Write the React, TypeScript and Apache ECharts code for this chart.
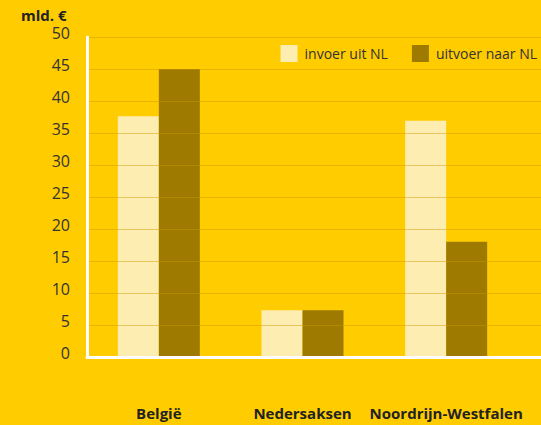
import React, { useEffect, useRef } from "react";
import * as echarts from "echarts";

const categories = ["België", "Nedersaksen", "Noordrijn-Westfalen"];
const invoerUitNL = [37.6, 7.3, 36.9];
const uitvoerNaarNL = [45.0, 7.3, 18.0];
const seriesNames = ["invoer uit NL", "uitvoer naar NL"];
const unitLabel = "mld. €";

const FONT = "'Open Sans', 'Noto Sans', sans-serif";

export default function App() {
  const ref = useRef<HTMLDivElement>(null);
  useEffect(() => {
    if (!ref.current) return;
    const chart = echarts.init(ref.current, undefined, { renderer: "svg" });
    chart.setOption({
      animation: false,
      backgroundColor: "#FFCC00",
      textStyle: { fontFamily: FONT },
      title: {
        text: unitLabel,
        left: 16,
        top: 2,
        textStyle: { fontFamily: FONT, fontSize: 15, fontWeight: "bold", color: "#222" },
      },
      legend: {
        right: 4,
        top: 45,
        padding: 0,
        itemWidth: 17,
        itemHeight: 17,
        itemGap: 24,
        icon: "rect",
        textStyle: { fontFamily: FONT, fontSize: 14, color: "#333", padding: [0, 0, 0, 2] },
        data: seriesNames,
      },
      grid: [
        { left: 87, right: 0, top: 37, bottom: 68 },
        { left: 87, width: 431, top: 37, bottom: 68 },
      ],
      xAxis: [
        {
          gridIndex: 0,
          type: "value",
          min: 0,
          max: 1,
          z: 5,
          axisLine: { show: true, lineStyle: { color: "#FFFFFF", width: 3 } },
          axisTick: { show: false },
          axisLabel: { show: false },
          splitLine: { show: false },
        },
        {
          gridIndex: 1,
          type: "category",
          data: categories,
          axisLine: { show: false },
          axisTick: { show: false },
          axisLabel: {
            interval: 0,
            hideOverlap: false,
            margin: 48,
            fontFamily: FONT,
            fontSize: 15,
            fontWeight: "bold",
            color: "#222",
          },
        },
      ],
      yAxis: [
        {
          gridIndex: 0,
          type: "value",
          min: 0,
          max: 50,
          interval: 5,
          z: 5,
          axisLine: { show: true, lineStyle: { color: "#FFFFFF", width: 3 } },
          axisTick: { show: false },
          axisLabel: {
            margin: 17,
            fontFamily: FONT,
            fontSize: 16,
            color: "#333",
            verticalAlign: "bottom",
            lineHeight: 8,
          },
          splitLine: { show: true, lineStyle: { color: "rgba(205,150,0,0.45)", width: 1 } },
        },
        {
          gridIndex: 1,
          type: "value",
          min: 0,
          max: 50,
          interval: 5,
          axisLine: { show: false },
          axisTick: { show: false },
          axisLabel: { show: false },
          splitLine: { show: false },
        },
      ],
      series: [
        {
          name: seriesNames[0],
          type: "bar",
          xAxisIndex: 1,
          yAxisIndex: 1,
          data: invoerUitNL,
          barWidth: 41,
          barGap: "0%",
          itemStyle: { color: "#FEEDB0" },
        },
        {
          name: seriesNames[1],
          type: "bar",
          xAxisIndex: 1,
          yAxisIndex: 1,
          data: uitvoerNaarNL,
          barWidth: 41,
          barGap: "0%",
          itemStyle: { color: "#9E7B00" },
        },
      ],
    });
    return () => chart.dispose();
  }, []);
  return <div ref={ref} style={{ width: 541, height: 425, position: "fixed", left: 0, top: 0 }} />;
}
